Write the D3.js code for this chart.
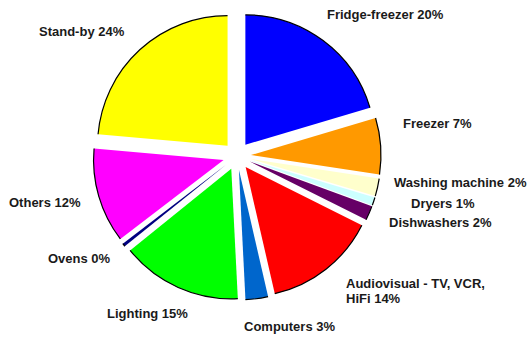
<!DOCTYPE html>
<html>
<head>
<meta charset="utf-8">
<script src="https://cdn.jsdelivr.net/npm/d3@7"></script>
<style>
  html, body { margin: 0; padding: 0; background: #fff; }
  svg { display: block; }
  text { font-family: "Liberation Sans", Arial, sans-serif; font-weight: bold; font-size: 13px; fill: #1a1a1a; }
</style>
</head>
<body>
<script>
// ---- data ----
const categories = ["Fridge-freezer", "Freezer", "Washing machine", "Dryers", "Dishwashers",
  "Audiovisual - TV, VCR, HiFi", "Computers", "Lighting", "Ovens", "Others", "Stand-by"];
const shares = [20.4, 7, 2.2, 1, 1.8, 14, 2.8, 15, 0.4, 11.8, 23.6];
const labelPct = [20, 7, 2, 1, 2, 14, 3, 15, 0, 12, 24];
const colors = ["#0000FF", "#FF9900", "#FFFFCC", "#CCFFFF", "#660066",
  "#FF0000", "#0066CC", "#00FF00", "#000080", "#FF00FF", "#FFFF00"];

// ---- layout ----
const W = 530, H = 338;
const cx = 237, cy = 156, R = 130, explode = 14;
// label anchor (left x, first baseline y)
const labelPos = [[327, 18.5], [403, 128], [394, 187], [411, 208], [389, 227],
  [346, 288], [244, 331], [107, 318], [48, 263], [9, 207], [39, 36]];

const svg = d3.select("body").append("svg").attr("width", W).attr("height", H);

const pie = d3.pie().sort(null).value(d => d)(shares);
const arc = d3.arc().innerRadius(0).outerRadius(R);

const g = svg.append("g").attr("transform", `translate(${cx},${cy})`);

const slices = g.selectAll("g.slice").data(pie).join("g")
  .attr("class", "slice")
  .attr("transform", d => {
    const m = (d.startAngle + d.endAngle) / 2;
    return `translate(${explode * Math.sin(m)},${-explode * Math.cos(m)})`;
  });

slices.append("path")
  .attr("d", arc)
  .attr("fill", (d, i) => colors[i]);

slices.append("path")
  .attr("d", d => {
    const p = d3.path();
    const a0 = d.startAngle - Math.PI / 2, a1 = d.endAngle - Math.PI / 2;
    p.moveTo(R * Math.cos(a0), R * Math.sin(a0));
    p.arc(0, 0, R, a0, a1);
    return p.toString();
  })
  .attr("fill", "none")
  .attr("stroke", "#000")
  .attr("stroke-width", 1.2);

// labels
categories.forEach((c, i) => {
  const [x, y] = labelPos[i];
  const t = svg.append("text").attr("x", x).attr("y", y);
  if (c.startsWith("Audiovisual")) {
    t.append("tspan").attr("x", x).attr("y", y).text("Audiovisual - TV, VCR,");
    t.append("tspan").attr("x", x).attr("y", y + 15).text(`HiFi ${labelPct[i]}%`);
  } else {
    t.text(`${c} ${labelPct[i]}%`);
  }
});
</script>
</body>
</html>
